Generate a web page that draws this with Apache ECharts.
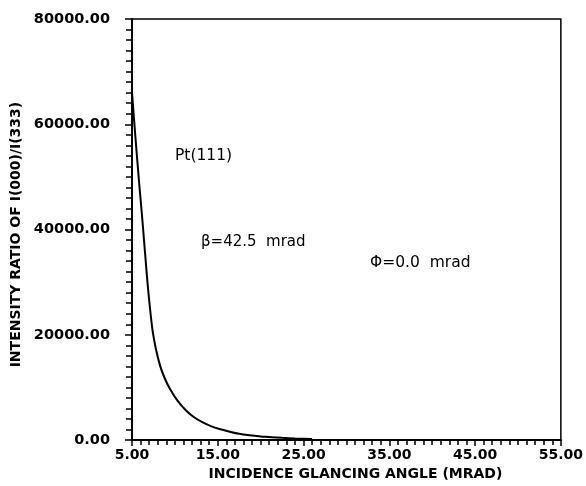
<!DOCTYPE html>
<html>
<head>
<meta charset="utf-8">
<script src="https://cdn.jsdelivr.net/npm/echarts@6/dist/echarts.min.js"></script>
<style>
html,body{margin:0;padding:0;background:#fff;}
#c{width:586px;height:486px;}
</style>
</head>
<body>
<div id="c"></div>
<script>
// Incidence glancing angle (mrad)
const angles = [5.0, 5.4, 5.8, 6.2, 6.5, 6.8, 7.1, 7.4, 7.8, 8.3, 8.8, 9.4, 10.3, 11.3, 12.2, 13.2, 14.2, 15.2, 16.5, 17.5, 18.7, 20.6, 22.5, 24.0, 26.0];
// Intensity ratio I(000)/I(333)
const ratios = [66000, 57500, 49500, 42000, 36000, 30000, 25000, 20800, 17200, 14000, 11800, 9800, 7500, 5630, 4400, 3400, 2650, 2100, 1550, 1200, 940, 620, 430, 320, 230];
const xTicks = [5, 15, 25, 35, 45, 55];
const yTicks = [0, 20000, 40000, 60000, 80000];
const annotations = ['Pt(111)', 'β=42.5  mrad', 'Φ=0.0  mrad'];

const chart = echarts.init(document.getElementById('c'), null, {renderer: 'canvas'});
const fontLbl = '"DejaVu Sans", sans-serif';
chart.setOption({
  animation: false,
  backgroundColor: '#fff',
  grid: {left: 132, right: 21, top: 19, bottom: 41, show: true, borderColor: '#000', borderWidth: 1.5},
  xAxis: {
    type: 'value', min: xTicks[0], max: xTicks[xTicks.length - 1], interval: 10,
    name: 'INCIDENCE GLANCING ANGLE (MRAD)', nameLocation: 'middle', nameGap: 25,
    nameTextStyle: {color: '#000', fontFamily: fontLbl, fontWeight: 'bold', fontSize: 14, padding: [0, 0, 0, 18]},
    axisLine: {lineStyle: {color: '#000', width: 2}},
    axisTick: {inside: false, length: 6, lineStyle: {color: '#000', width: 1.5}},
    minorTick: {show: true, splitNumber: 10, length: 5, lineStyle: {color: '#000', width: 1.5}},
    splitLine: {show: false},
    axisLabel: {color: '#000', fontFamily: fontLbl, fontWeight: 'bold', fontSize: 14, margin: 8,
      formatter: v => v.toFixed(2)}
  },
  yAxis: {
    type: 'value', min: yTicks[0], max: yTicks[yTicks.length - 1], interval: 20000,
    name: 'INTENSITY RATIO OF I(000)/I(333)', nameLocation: 'middle', nameGap: 102, nameRotate: 90,
    nameTextStyle: {color: '#000', fontFamily: fontLbl, fontWeight: 'bold', fontSize: 14, padding: [0, 10, 0, 0]},
    axisLine: {lineStyle: {color: '#000', width: 2}},
    axisTick: {inside: false, length: 7, lineStyle: {color: '#000', width: 1.5}},
    minorTick: {show: true, splitNumber: 10, length: 6, lineStyle: {color: '#000', width: 1.5}},
    splitLine: {show: false},
    axisLabel: {color: '#000', fontFamily: fontLbl, fontWeight: 'bold', fontSize: 14.5, margin: 22,
      formatter: v => v.toFixed(2)}
  },
  series: [{
    type: 'line', smooth: 0.25, showSymbol: false, symbol: 'none',
    lineStyle: {color: '#000', width: 2},
    data: angles.map((a, i) => [a, ratios[i]])
  }],
  graphic: [
    {type: 'text', left: 175, top: 148, style: {text: annotations[0], fill: '#000', font: '15.5px "DejaVu Sans", sans-serif'}},
    {type: 'text', left: 201, top: 235, style: {text: annotations[1], fill: '#000', font: '15px "DejaVu Sans", sans-serif'}},
    {type: 'text', left: 370, top: 255, style: {text: annotations[2], fill: '#000', font: '15.5px "DejaVu Sans", sans-serif'}}
  ]
});
</script>
</body>
</html>
